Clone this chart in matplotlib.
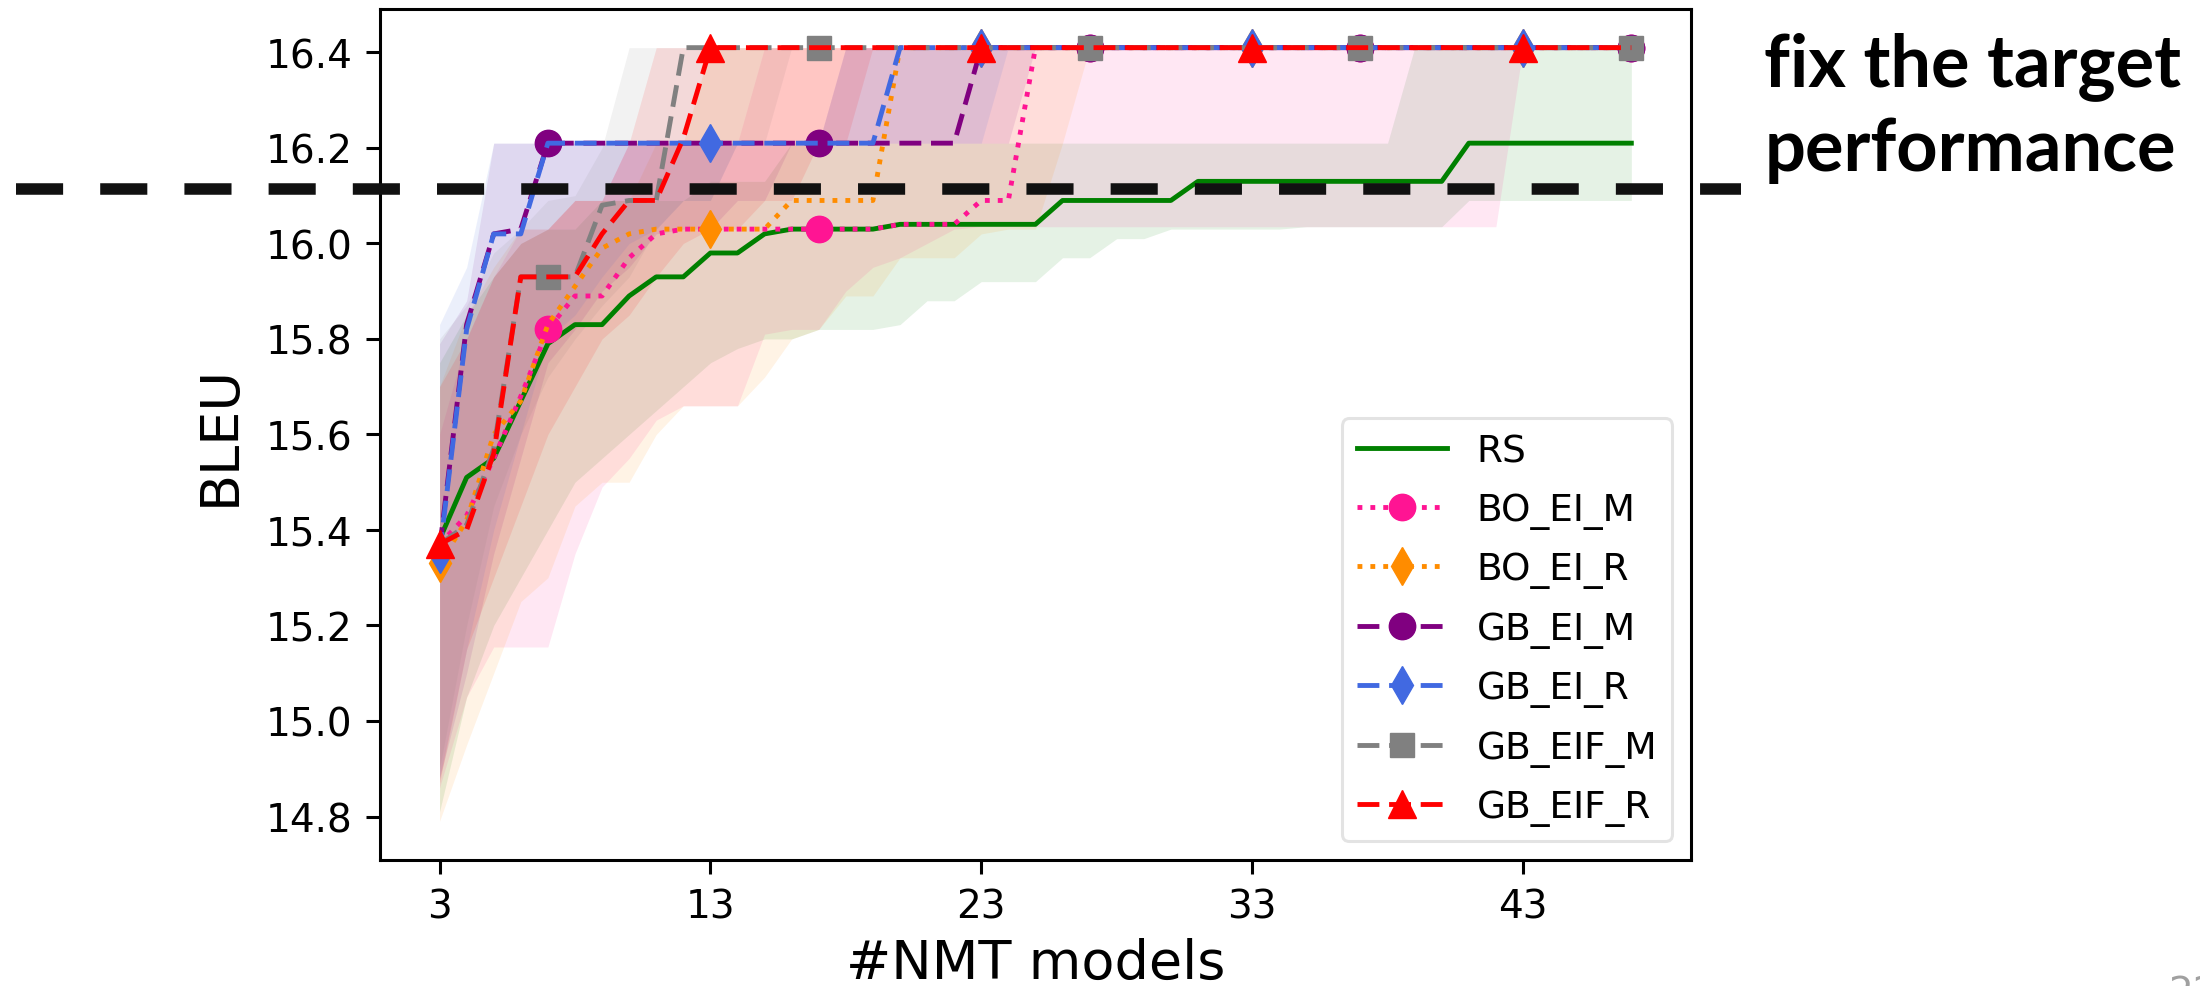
import numpy as np
import matplotlib
matplotlib.use('Agg')
import matplotlib.pyplot as plt
from matplotlib.lines import Line2D
from matplotlib import transforms

# numero de modelos NMT avaliados
n_models = list(range(3, 48))

# curvas (mediana) e faixas (min / max) de cada estrategia
rs = [15.38, 15.51, 15.55, 15.67, 15.79, 15.83, 15.83, 15.89, 15.93, 15.93, 15.98, 15.98, 16.02, 16.03, 16.03,
      16.03, 16.03, 16.04, 16.04, 16.04, 16.04, 16.04, 16.04, 16.09, 16.09, 16.09, 16.09, 16.09, 16.13, 16.13,
      16.13, 16.13, 16.13, 16.13, 16.13, 16.13, 16.13, 16.13, 16.21, 16.21, 16.21, 16.21, 16.21, 16.21, 16.21]
rs_lo = [14.81, 15.05, 15.20, 15.30, 15.40, 15.50, 15.55, 15.60, 15.65, 15.70, 15.75, 15.78, 15.80, 15.80, 15.82,
         15.82, 15.82, 15.83, 15.88, 15.88, 15.92, 15.92, 15.92, 15.97, 15.97, 16.01, 16.01, 16.03, 16.03, 16.03,
         16.03, 16.03, 16.035, 16.035, 16.035, 16.035, 16.035, 16.035, 16.09, 16.09, 16.09, 16.09, 16.09, 16.09, 16.09]
rs_hi = [15.75, 15.85, 15.93, 16.00, 16.03, 16.03, 16.09, 16.09, 16.09, 16.09, 16.13, 16.13, 16.13, 16.21, 16.21,
         16.21, 16.21, 16.21, 16.21, 16.21, 16.21, 16.21, 16.21, 16.21, 16.21, 16.21, 16.21, 16.21, 16.21, 16.21,
         16.21, 16.21, 16.21, 16.21, 16.21, 16.21, 16.41, 16.41, 16.41, 16.41, 16.41, 16.41, 16.41, 16.41, 16.41]

bo_ei_m = [15.37, 15.43, 15.55, 15.68, 15.82, 15.89, 15.89, 15.97, 16.02, 16.03, 16.03, 16.03, 16.03, 16.03, 16.03,
           16.03, 16.03, 16.04, 16.04, 16.04, 16.09, 16.09, 16.41, 16.41, 16.41, 16.41, 16.41, 16.41, 16.41, 16.41,
           16.41, 16.41, 16.41, 16.41, 16.41, 16.41, 16.41, 16.41, 16.41, 16.41, 16.41, 16.41, 16.41, 16.41, 16.41]
bo_ei_m_lo = [14.86, 15.05, 15.155, 15.155, 15.155, 15.35, 15.49, 15.55, 15.63, 15.66, 15.66, 15.66, 15.81, 15.82, 15.82,
              15.90, 15.95, 15.97, 16.00, 16.03, 16.035, 16.035, 16.035, 16.035, 16.035, 16.035, 16.035, 16.035, 16.035, 16.035,
              16.035, 16.035, 16.035, 16.035, 16.035, 16.035, 16.035, 16.035, 16.035, 16.035, 16.41, 16.41, 16.41, 16.41, 16.41]
bo_ei_m_hi = [15.60, 15.80, 15.93, 16.03, 16.03, 16.09, 16.09, 16.21, 16.21, 16.21, 16.21, 16.21, 16.41, 16.41, 16.41,
              16.41, 16.41, 16.41, 16.41, 16.41, 16.41, 16.41, 16.41, 16.41, 16.41, 16.41, 16.41, 16.41, 16.41, 16.41,
              16.41, 16.41, 16.41, 16.41, 16.41, 16.41, 16.41, 16.41, 16.41, 16.41, 16.41, 16.41, 16.41, 16.41, 16.41]

bo_ei_r = [15.33, 15.42, 15.60, 15.67, 15.83, 15.91, 15.99, 16.02, 16.03, 16.03, 16.03, 16.03, 16.03, 16.09, 16.09,
           16.09, 16.09, 16.41, 16.41, 16.41, 16.41, 16.41, 16.41, 16.41, 16.41, 16.41, 16.41, 16.41, 16.41, 16.41,
           16.41, 16.41, 16.41, 16.41, 16.41, 16.41, 16.41, 16.41, 16.41, 16.41, 16.41, 16.41, 16.41, 16.41, 16.41]
bo_ei_r_lo = [14.79, 14.95, 15.10, 15.25, 15.30, 15.45, 15.50, 15.50, 15.60, 15.66, 15.66, 15.66, 15.72, 15.80, 15.82,
              15.89, 15.89, 15.97, 15.97, 15.97, 16.02, 16.03, 16.03, 16.21, 16.41, 16.41, 16.41, 16.41, 16.41, 16.41,
              16.41, 16.41, 16.41, 16.41, 16.41, 16.41, 16.41, 16.41, 16.41, 16.41, 16.41, 16.41, 16.41, 16.41, 16.41]
bo_ei_r_hi = [15.70, 15.85, 15.95, 16.03, 16.03, 16.09, 16.09, 16.09, 16.21, 16.21, 16.41, 16.41, 16.41, 16.41, 16.41,
              16.41, 16.41, 16.41, 16.41, 16.41, 16.41, 16.41, 16.41, 16.41, 16.41, 16.41, 16.41, 16.41, 16.41, 16.41,
              16.41, 16.41, 16.41, 16.41, 16.41, 16.41, 16.41, 16.41, 16.41, 16.41, 16.41, 16.41, 16.41, 16.41, 16.41]

gb_ei_m = [15.36, 15.83, 16.02, 16.03, 16.21, 16.21, 16.21, 16.21, 16.21, 16.21, 16.21, 16.21, 16.21, 16.21, 16.21,
           16.21, 16.21, 16.21, 16.21, 16.21, 16.41, 16.41, 16.41, 16.41, 16.41, 16.41, 16.41, 16.41, 16.41, 16.41,
           16.41, 16.41, 16.41, 16.41, 16.41, 16.41, 16.41, 16.41, 16.41, 16.41, 16.41, 16.41, 16.41, 16.41, 16.41]
gb_ei_m_lo = [14.88, 15.10, 15.35, 15.55, 15.75, 15.82, 15.90, 15.95, 16.02, 16.03, 16.03, 16.09, 16.09, 16.21, 16.21,
              16.21, 16.21, 16.21, 16.21, 16.21, 16.21, 16.21, 16.41, 16.41, 16.41, 16.41, 16.41, 16.41, 16.41, 16.41,
              16.41, 16.41, 16.41, 16.41, 16.41, 16.41, 16.41, 16.41, 16.41, 16.41, 16.41, 16.41, 16.41, 16.41, 16.41]
gb_ei_m_hi = [15.79, 15.88, 16.21, 16.21, 16.21, 16.21, 16.21, 16.21, 16.21, 16.21, 16.21, 16.21, 16.21, 16.21, 16.21,
              16.41, 16.41, 16.41, 16.41, 16.41, 16.41, 16.41, 16.41, 16.41, 16.41, 16.41, 16.41, 16.41, 16.41, 16.41,
              16.41, 16.41, 16.41, 16.41, 16.41, 16.41, 16.41, 16.41, 16.41, 16.41, 16.41, 16.41, 16.41, 16.41, 16.41]

gb_ei_r = [15.35, 15.82, 16.02, 16.02, 16.21, 16.21, 16.21, 16.21, 16.21, 16.21, 16.21, 16.21, 16.21, 16.21, 16.21,
           16.21, 16.21, 16.41, 16.41, 16.41, 16.41, 16.41, 16.41, 16.41, 16.41, 16.41, 16.41, 16.41, 16.41, 16.41,
           16.41, 16.41, 16.41, 16.41, 16.41, 16.41, 16.41, 16.41, 16.41, 16.41, 16.41, 16.41, 16.41, 16.41, 16.41]
gb_ei_r_lo = [14.88, 15.15, 15.40, 15.60, 15.80, 15.85, 15.93, 16.00, 16.03, 16.09, 16.09, 16.21, 16.21, 16.21, 16.21,
              16.21, 16.21, 16.21, 16.21, 16.21, 16.21, 16.41, 16.41, 16.41, 16.41, 16.41, 16.41, 16.41, 16.41, 16.41,
              16.41, 16.41, 16.41, 16.41, 16.41, 16.41, 16.41, 16.41, 16.41, 16.41, 16.41, 16.41, 16.41, 16.41, 16.41]
gb_ei_r_hi = [15.83, 15.95, 16.21, 16.21, 16.21, 16.21, 16.21, 16.21, 16.21, 16.21, 16.21, 16.21, 16.21, 16.21, 16.21,
              16.41, 16.41, 16.41, 16.41, 16.41, 16.41, 16.41, 16.41, 16.41, 16.41, 16.41, 16.41, 16.41, 16.41, 16.41,
              16.41, 16.41, 16.41, 16.41, 16.41, 16.41, 16.41, 16.41, 16.41, 16.41, 16.41, 16.41, 16.41, 16.41, 16.41]

gb_eif_m = [15.37, 15.41, 15.57, 15.93, 15.93, 15.93, 16.08, 16.09, 16.09, 16.41, 16.41, 16.41, 16.41, 16.41, 16.41,
            16.41, 16.41, 16.41, 16.41, 16.41, 16.41, 16.41, 16.41, 16.41, 16.41, 16.41, 16.41, 16.41, 16.41, 16.41,
            16.41, 16.41, 16.41, 16.41, 16.41, 16.41, 16.41, 16.41, 16.41, 16.41, 16.41, 16.41, 16.41, 16.41, 16.41]
gb_eif_m_lo = [14.90, 15.20, 15.45, 15.60, 15.72, 15.80, 15.87, 15.93, 16.03, 16.09, 16.09, 16.21, 16.21, 16.41, 16.41,
               16.41, 16.41, 16.41, 16.41, 16.41, 16.41, 16.41, 16.41, 16.41, 16.41, 16.41, 16.41, 16.41, 16.41, 16.41,
               16.41, 16.41, 16.41, 16.41, 16.41, 16.41, 16.41, 16.41, 16.41, 16.41, 16.41, 16.41, 16.41, 16.41, 16.41]
gb_eif_m_hi = [15.80, 15.87, 15.98, 16.03, 16.09, 16.10, 16.20, 16.41, 16.41, 16.41, 16.41, 16.41, 16.41, 16.41, 16.41,
               16.41, 16.41, 16.41, 16.41, 16.41, 16.41, 16.41, 16.41, 16.41, 16.41, 16.41, 16.41, 16.41, 16.41, 16.41,
               16.41, 16.41, 16.41, 16.41, 16.41, 16.41, 16.41, 16.41, 16.41, 16.41, 16.41, 16.41, 16.41, 16.41, 16.41]

gb_eif_r = [15.37, 15.40, 15.56, 15.93, 15.93, 15.93, 16.02, 16.09, 16.09, 16.22, 16.41, 16.41, 16.41, 16.41, 16.41,
            16.41, 16.41, 16.41, 16.41, 16.41, 16.41, 16.41, 16.41, 16.41, 16.41, 16.41, 16.41, 16.41, 16.41, 16.41,
            16.41, 16.41, 16.41, 16.41, 16.41, 16.41, 16.41, 16.41, 16.41, 16.41, 16.41, 16.41, 16.41, 16.41, 16.41]
gb_eif_r_lo = [14.87, 15.15, 15.30, 15.45, 15.60, 15.70, 15.80, 15.85, 15.93, 16.00, 16.03, 16.03, 16.09, 16.09, 16.21,
               16.21, 16.41, 16.41, 16.41, 16.41, 16.41, 16.41, 16.41, 16.41, 16.41, 16.41, 16.41, 16.41, 16.41, 16.41,
               16.41, 16.41, 16.41, 16.41, 16.41, 16.41, 16.41, 16.41, 16.41, 16.41, 16.41, 16.41, 16.41, 16.41, 16.41]
gb_eif_r_hi = [15.70, 15.80, 15.93, 16.00, 16.03, 16.09, 16.09, 16.21, 16.41, 16.41, 16.41, 16.41, 16.41, 16.41, 16.41,
               16.41, 16.41, 16.41, 16.41, 16.41, 16.41, 16.41, 16.41, 16.41, 16.41, 16.41, 16.41, 16.41, 16.41, 16.41,
               16.41, 16.41, 16.41, 16.41, 16.41, 16.41, 16.41, 16.41, 16.41, 16.41, 16.41, 16.41, 16.41, 16.41, 16.41]

target = 16.114  # linha tracejada: desempenho alvo
x_ticks = [3, 13, 23, 33, 43]
y_ticks = [14.8, 15.0, 15.2, 15.4, 15.6, 15.8, 16.0, 16.2, 16.4]

# (nome, curva, min, max, cor, estilo, marcador, tamanho, markevery)
series = [
    ('RS', rs, rs_lo, rs_hi, 'green', '-', None, 0, None),
    ('BO_EI_M', bo_ei_m, bo_ei_m_lo, bo_ei_m_hi, 'deeppink', ':', 'o', 19, (4, 10)),
    ('BO_EI_R', bo_ei_r, bo_ei_r_lo, bo_ei_r_hi, 'darkorange', ':', 'd', 19, (0, 10)),
    ('GB_EI_M', gb_ei_m, gb_ei_m_lo, gb_ei_m_hi, 'purple', '--', 'o', 19, (4, 10)),
    ('GB_EI_R', gb_ei_r, gb_ei_r_lo, gb_ei_r_hi, 'royalblue', '--', 'd', 19, (0, 10)),
    ('GB_EIF_M', gb_eif_m, gb_eif_m_lo, gb_eif_m_hi, 'grey', '--', 's', 17, (4, 10)),
    ('GB_EIF_R', gb_eif_r, gb_eif_r_lo, gb_eif_r_hi, 'red', '--', '^', 20, (0, 10)),
]

fig = plt.figure(figsize=(22, 9.87), dpi=100)
ax = fig.add_axes([0.1727, 0.1277, 0.5959, 0.8622])

for name, y, lo, hi, cor, ls, mk, ms, me in series:
    ax.fill_between(n_models, lo, hi, color=cor, alpha=0.1, linewidth=0, zorder=1)
for name, y, lo, hi, cor, ls, mk, ms, me in series:
    kw = dict(color=cor, linewidth=3.5, label=name, zorder=3)
    if ls == '--':
        kw['dashes'] = (4.5, 2.0)
    else:
        kw['linestyle'] = ls
    if mk is not None:
        kw.update(marker=mk, markersize=ms, markevery=me, markeredgecolor=cor)
    ax.plot(n_models, y, **kw)

ax.set_xlim(0.8, 49.2)
ax.set_ylim(14.709, 16.491)
ax.set_xticks(x_ticks)
ax.set_yticks(y_ticks)
ax.set_yticklabels(['%.1f' % v for v in y_ticks])
ax.tick_params(labelsize=28, length=10, width=2.2, pad=10)
for s in ax.spines.values():
    s.set_linewidth(2.2)
ax.set_xlabel('#NMT models', fontsize=39, labelpad=8)
ax.set_ylabel('BLEU', fontsize=39, labelpad=14)

leg = ax.legend(loc='lower right', fontsize=27, labelspacing=0.6, handlelength=2.4)
leg.get_frame().set_edgecolor('#dddddd')
leg.get_frame().set_linewidth(2.2)

# linha tracejada do alvo, atravessando a figura
trans = transforms.blended_transform_factory(fig.transFigure, ax.transData)
fig.add_artist(Line2D([0.0073, 0.7914], [target, target], transform=trans, color='#111111',
                      linewidth=8.3, dashes=(47 / 11.5, 37 / 11.5), zorder=5))

fig.text(0.802, 1 - 86 / 987, 'fix the target', fontsize=52, fontweight='bold',
         family='Lato', va='baseline', ha='left')
fig.text(0.802, 1 - 171 / 987, 'performance', fontsize=52, fontweight='bold',
         family='Lato', va='baseline', ha='left')
fig.text(0.9855, 1 - 975 / 987, '22', fontsize=28, color='#a0a0a0', va='top', ha='left')

fig.savefig('out.png', dpi=100)
